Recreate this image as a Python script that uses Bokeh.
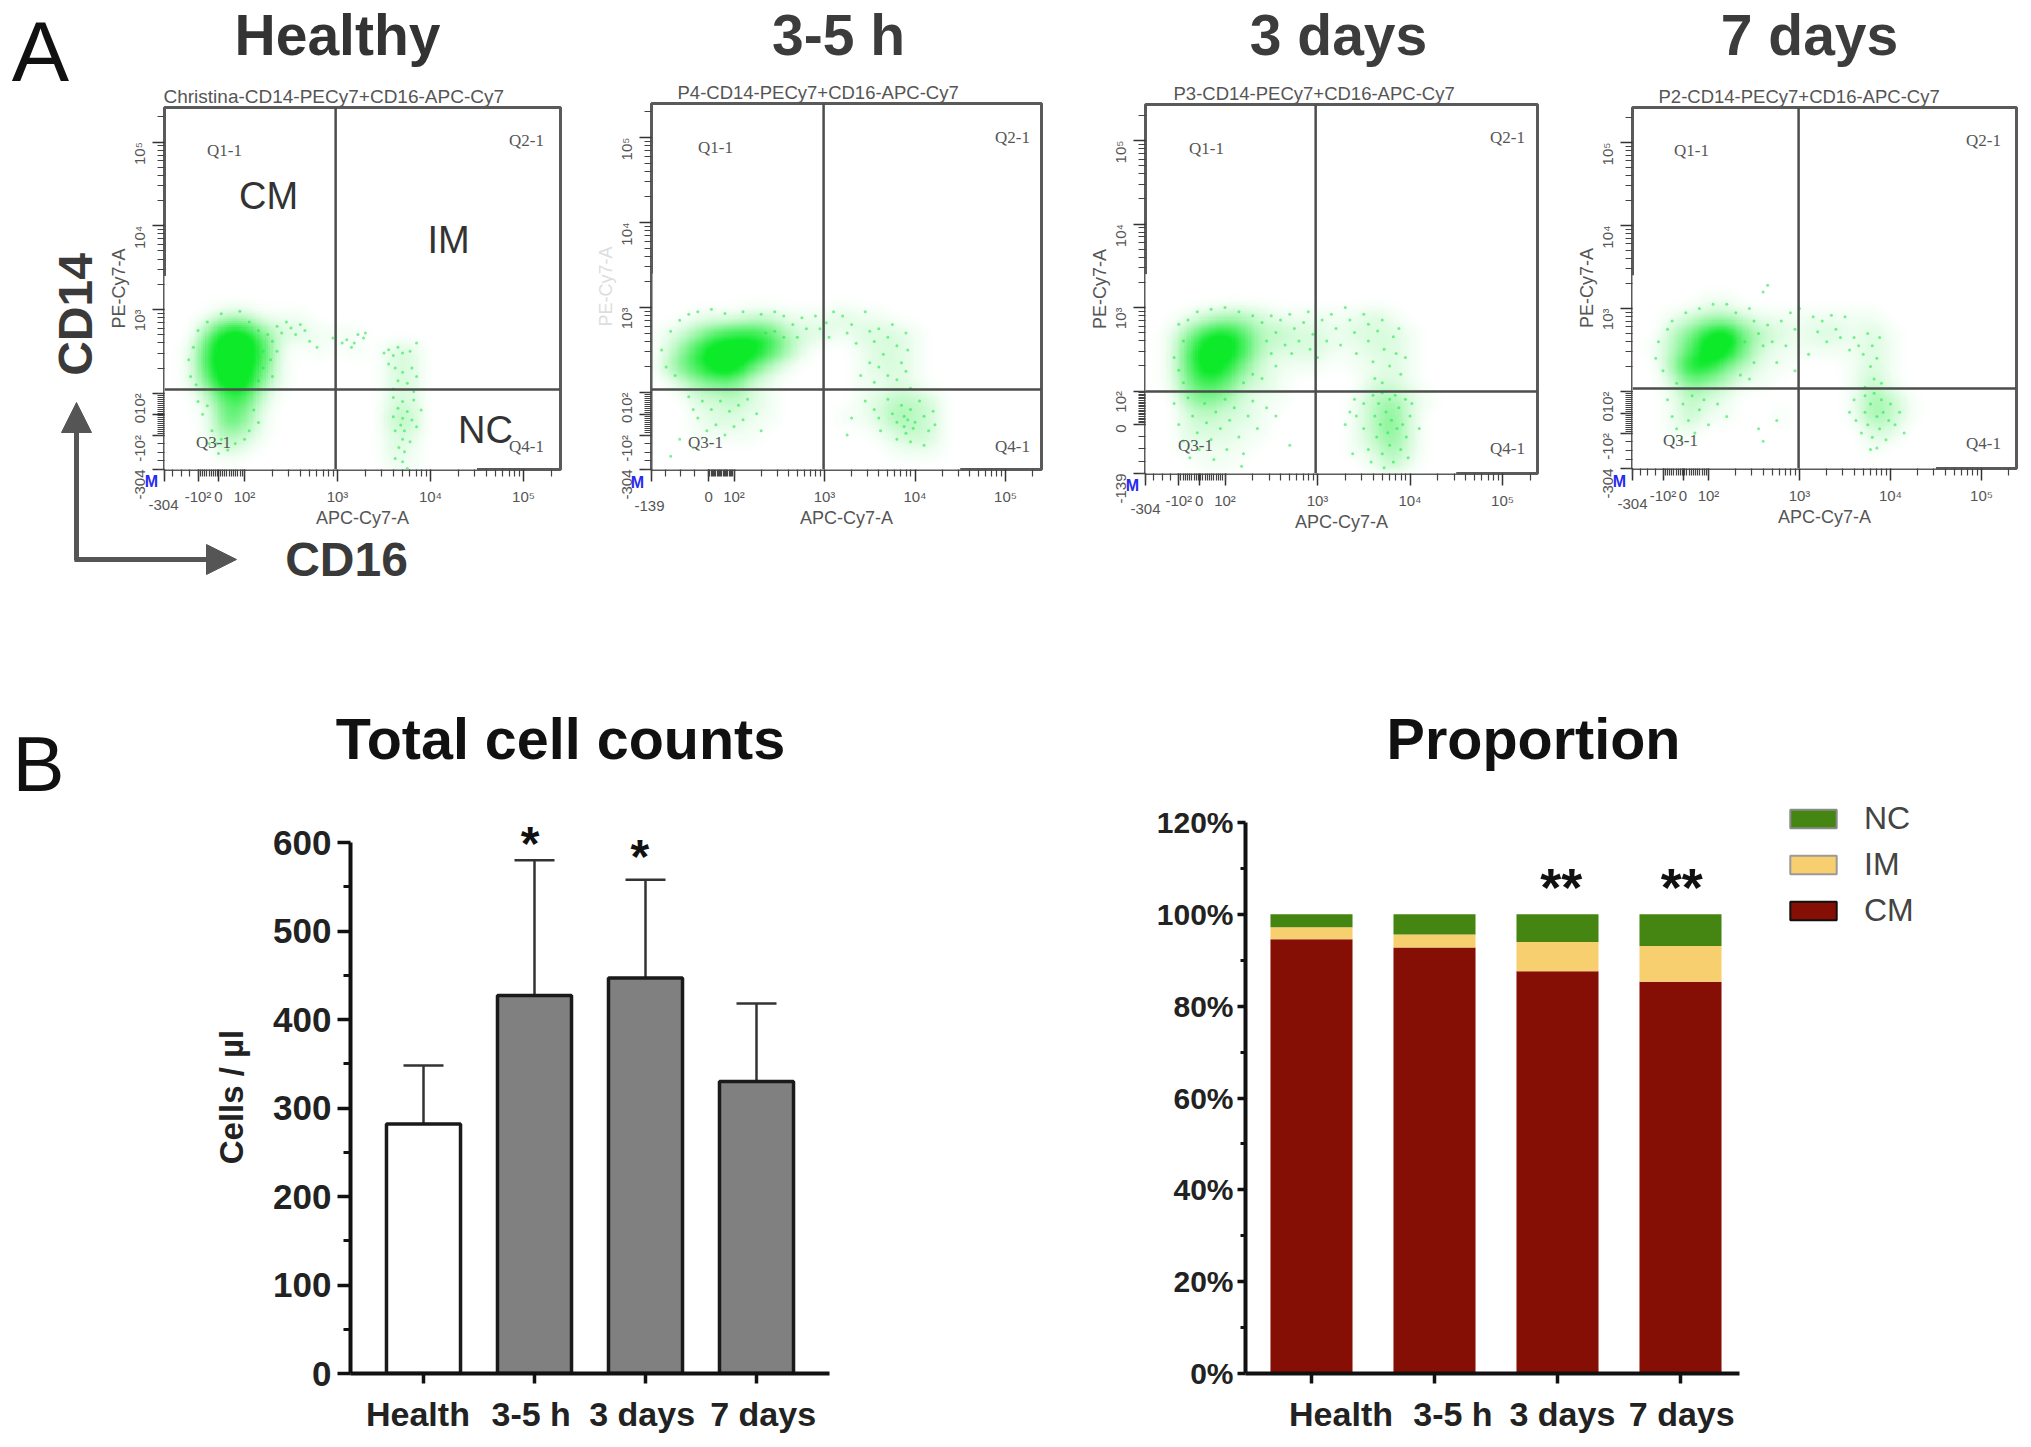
import math
import numpy as np
from bokeh.plotting import figure
from bokeh.layouts import column, row
from bokeh.models import (Range1d, FixedTicker, Arrow, NormalHead, LinearAxis, Legend, LegendItem,
                          ColumnDataSource, PrintfTickFormatter, Whisker, TeeHead, LinearColorMapper)
from bokeh.core.properties import value
from bokeh.embed import file_html
from bokeh.resources import INLINE

# ---------------- DATA ----------------
headings = ["Healthy", "3-5 h", "3 days", "7 days"]
gate_titles = ["Christina-CD14-PECy7+CD16-APC-Cy7", "P4-CD14-PECy7+CD16-APC-Cy7",
               "P3-CD14-PECy7+CD16-APC-Cy7", "P2-CD14-PECy7+CD16-APC-Cy7"]
categories = ["Health", "3-5 h", "3 days", "7 days"]

cell_means = [282, 427, 447, 330]
cell_upper = [348, 580, 558, 418]
cm_share = [94.6, 92.8, 87.6, 85.3]
im_share = [2.6, 2.8, 6.4, 7.8]
nc_share = [2.8, 4.4, 6.0, 6.9]

# Flow panels: positions are on the display scale, where 10^n sits at n.
# Event density read by eye, 0-9, columns x = 1.2, 1.4 ... 4.4; rows y = 3.3, 3.1 ... 1.1
density_x = (1.1, 4.5)
density_y = (1.0, 3.4)
p1_density = ["00000000000000000", "00000000000000000", "00133111000000000", "00599522111000000",
              "01799710101022000", "01799610000022000", "01599410000022000", "00266200000022000",
              "00165100000033000", "00143100000022000", "00021000000021000", "00000000000011000"]
p2_density = ["00000000000000000", "00000000000000000", "00111221112110000", "12467763221222100",
              "14799974100122100", "25799631000122100", "02455210000112100", "00223210000123320",
              "00122110001124320", "00111100000012320", "00000000000001110", "00000000000000000"]
p3_density = ["00000000000000000", "00000000000000000", "00123321111121000", "01478633221222100",
              "01699732221122100", "01698521110112100", "01576321000022100", "00454211000134210",
              "00232210000135200", "00222110000135200", "00111100000124200", "00011000000013100"]
p4_density = ["00000000000000000", "00001100000000000", "00123321111111000", "00358953212212100",
              "01369952111112100", "00488531100012100", "00254311000013100", "00132100000014310",
              "00131100100014310", "00110000000002200", "00000000000001000", "00000000000000000"]

# Individual events
p1_events = [(2.15, 2.75), (2.25, 2.7), (2.3, 2.62), (2.35, 2.8), (2.4, 2.72), (2.45, 2.85), (2.5, 2.78), (2.55, 2.7),
             (2.6, 2.82), (2.65, 2.75), (2.7, 2.62), (2.78, 2.55), (2.2, 2.5), (2.28, 2.4), (2.35, 2.5), (2.2, 2.3),
             (2.15, 2.15), (2.3, 2.2), (2.95, 2.66), (3.05, 2.6), (3.1, 2.64), (3.18, 2.6), (3.22, 2.7), (3.28, 2.66),
             (3.3, 2.72), (3.15, 2.55), (3.5, 2.48), (3.55, 2.52), (3.6, 2.45), (3.65, 2.55), (3.7, 2.48), (3.78, 2.5),
             (3.85, 2.6), (3.55, 2.35), (3.62, 2.3), (3.7, 2.25), (3.8, 2.3), (3.85, 2.2), (3.65, 2.15), (3.75, 2.12),
             (3.6, 2.05), (3.82, 2.02), (3.6, 1.95), (3.7, 1.9), (3.82, 1.92), (3.9, 1.8), (3.65, 1.82), (3.75, 1.78),
             (3.6, 1.72), (3.7, 1.7), (3.8, 1.68), (3.68, 1.62), (3.72, 1.55), (3.85, 1.6), (3.62, 1.55), (3.7, 1.45),
             (3.78, 1.42), (3.66, 1.35), (3.72, 1.3), (3.62, 1.22), (3.7, 1.18), (3.75, 1.1), (1.5, 1.9), (1.55, 1.75),
             (1.6, 1.85), (1.65, 1.55), (1.7, 1.4), (1.75, 1.45), (1.62, 1.4), (2.1, 1.8), (2.15, 1.65), (2.05, 1.55),
             (2.0, 1.45), (1.9, 1.4), (1.82, 1.32), (1.72, 1.28), (1.4, 2.4), (1.45, 2.55), (1.42, 2.2), (1.48, 2.1),
             (1.5, 2.75), (1.6, 2.85), (1.75, 2.95), (1.95, 2.98), (2.05, 2.85)]
p2_events = [(1.2, 2.5), (1.25, 2.3), (1.3, 2.72), (1.35, 2.2), (1.4, 2.85), (1.5, 2.92), (1.6, 2.95), (1.75, 2.98),
             (1.9, 2.93), (2.1, 2.95), (2.3, 2.92), (2.45, 2.95), (2.55, 2.9), (2.35, 2.7), (2.45, 2.72), (2.55, 2.65),
             (2.65, 2.8), (2.75, 2.88), (2.7, 2.65), (2.8, 2.75), (2.9, 2.9), (2.95, 2.75), (3.02, 2.82), (3.05, 2.65),
             (3.1, 2.95), (3.2, 2.9), (3.25, 2.7), (3.3, 2.8), (3.35, 2.58), (3.45, 2.95), (3.5, 2.72), (3.55, 2.6),
             (3.6, 2.75), (3.65, 2.45), (3.7, 2.65), (3.75, 2.8), (3.8, 2.55), (3.85, 2.35), (3.9, 2.7), (3.92, 2.5),
             (3.6, 2.3), (3.7, 2.2), (3.8, 2.15), (3.9, 2.25), (3.5, 2.35), (3.4, 2.2), (3.55, 2.12), (3.95, 2.05),
             (3.45, 1.9), (3.55, 1.8), (3.6, 1.7), (3.62, 1.55), (3.7, 1.92), (3.75, 1.75), (3.8, 1.65), (3.85, 1.85),
             (3.88, 1.72), (3.9, 1.52), (3.95, 1.8), (4.0, 1.65), (4.05, 1.9), (4.1, 1.72), (4.15, 1.55), (4.2, 1.78),
             (4.22, 1.62), (3.8, 1.45), (3.95, 1.42), (4.1, 1.38), (3.88, 1.6), (3.92, 1.68), (3.98, 1.58), (3.3, 1.7),
             (3.25, 1.5), (1.5, 1.95), (1.55, 1.8), (1.6, 1.7), (1.65, 1.9), (1.7, 1.55), (1.75, 1.8), (1.8, 1.62),
             (1.85, 1.9), (1.9, 1.5), (1.95, 1.78), (2.0, 1.6), (2.05, 1.85), (2.1, 1.68), (2.15, 1.92), (2.25, 1.75),
             (2.3, 1.55), (1.4, 1.45), (1.3, 1.25), (1.55, 1.35)]
p3_events = [(1.5, 2.8), (1.55, 2.6), (1.6, 2.85), (1.45, 2.4), (1.5, 2.25), (1.55, 2.1), (1.7, 2.95), (1.85, 2.98),
             (2.0, 3.0), (2.15, 2.95), (2.3, 2.9), (2.4, 2.82), (2.45, 2.6), (2.5, 2.45), (2.55, 2.3), (2.3, 2.2),
             (2.4, 2.15), (2.2, 2.1), (2.5, 2.9), (2.55, 2.7), (2.6, 2.85), (2.65, 2.55), (2.7, 2.92), (2.72, 2.45),
             (2.75, 2.75), (2.8, 2.6), (2.85, 2.82), (2.9, 2.95), (2.92, 2.5), (2.95, 2.68), (3.0, 2.4), (3.05, 2.85),
             (3.1, 2.6), (3.15, 2.92), (3.2, 2.75), (3.25, 2.55), (3.3, 3.0), (3.35, 2.85), (3.4, 2.7), (3.42, 2.45),
             (3.5, 2.92), (3.55, 2.8), (3.55, 2.6), (3.6, 2.35), (3.65, 2.72), (3.7, 2.85), (3.72, 2.5), (3.78, 2.3),
             (3.82, 2.65), (3.85, 2.45), (3.88, 2.75), (3.9, 2.2), (3.62, 2.15), (3.7, 2.1), (3.95, 2.4), (3.4, 1.9),
             (3.42, 1.7), (3.5, 1.55), (3.5, 1.85), (3.55, 1.3), (3.58, 1.15), (3.6, 1.95), (3.62, 1.7), (3.64, 1.45),
             (3.66, 1.85), (3.68, 1.6), (3.7, 1.25), (3.7, 1.98), (3.72, 1.08), (3.74, 1.75), (3.76, 1.5), (3.78, 1.9),
             (3.78, 1.35), (3.8, 1.65), (3.82, 1.15), (3.84, 1.95), (3.86, 1.55), (3.88, 1.8), (3.9, 1.3), (3.92, 1.6),
             (3.95, 1.9), (3.96, 1.45), (3.98, 1.2), (4.0, 1.7), (4.02, 1.85), (3.3, 1.6), (3.35, 1.75), (3.38, 1.25),
             (4.1, 1.55), (1.45, 1.85), (1.5, 1.6), (1.55, 1.4), (1.6, 1.92), (1.62, 1.2), (1.65, 1.7), (1.7, 1.5),
             (1.72, 1.3), (1.78, 1.85), (1.8, 1.62), (1.85, 1.42), (1.88, 1.18), (1.9, 1.75), (1.95, 1.55), (2.0, 1.9),
             (2.02, 1.3), (2.05, 1.65), (2.1, 1.8), (2.15, 1.45), (2.18, 1.1), (2.25, 1.7), (2.3, 1.88), (2.35, 1.55),
             (2.45, 1.8), (2.55, 1.7), (2.7, 1.35), (2.2, 1.25)]
p4_events = [(1.42, 2.4), (1.45, 2.6), (1.5, 2.25), (1.55, 2.75), (1.6, 2.85), (1.65, 2.1), (1.75, 2.95), (1.9, 3.0),
             (2.05, 3.05), (2.2, 3.05), (2.3, 2.95), (2.45, 3.0), (2.6, 3.2), (2.65, 3.28), (2.5, 2.85), (2.55, 2.7),
             (2.6, 2.55), (2.5, 2.35), (2.45, 2.15), (2.35, 2.2), (2.4, 2.6), (2.65, 2.8), (2.7, 2.6), (2.75, 2.35),
             (2.8, 2.85), (2.85, 2.55), (2.9, 2.95), (2.95, 2.75), (2.95, 2.25), (3.0, 3.0), (3.1, 2.45), (3.15, 2.9),
             (3.2, 2.72), (3.25, 2.85), (3.3, 2.6), (3.35, 2.92), (3.4, 2.75), (3.45, 2.65), (3.5, 2.9), (3.55, 2.5),
             (3.6, 2.65), (3.65, 2.55), (3.7, 2.45), (3.75, 2.7), (3.78, 2.3), (3.8, 2.55), (3.82, 2.15), (3.85, 2.4),
             (3.88, 2.65), (3.9, 2.1), (3.72, 2.05), (3.55, 1.75), (3.6, 1.9), (3.62, 1.65), (3.68, 1.5), (3.72, 1.95),
             (3.72, 1.75), (3.75, 1.6), (3.78, 1.85), (3.8, 1.45), (3.82, 1.98), (3.85, 1.7), (3.88, 1.55), (3.9, 1.9),
             (3.92, 1.75), (3.95, 1.42), (3.98, 1.65), (4.0, 1.85), (4.05, 1.6), (4.1, 1.75), (4.15, 1.5), (3.85, 1.32),
             (3.78, 1.3), (1.55, 1.9), (1.6, 1.7), (1.65, 1.55), (1.7, 1.42), (1.72, 1.85), (1.78, 1.65), (1.82, 1.95),
             (1.85, 1.5), (1.9, 1.78), (1.95, 1.9), (2.0, 1.6), (2.1, 1.85), (2.2, 1.7), (2.55, 1.55), (2.6, 1.4),
             (2.75, 1.65)]

FONT = "Liberation Sans"
GREEN = (12, 234, 42)
GREY_TXT = "#555555"
W, H = 2025, 1440

green_ramp = ["#%02x%02x%02x" % tuple(int(round(255 + (c - 255) * t)) for c in GREEN) for t in np.linspace(0, 1, 256)]
density_mapper = LinearColorMapper(palette=green_ramp, low=0, high=9)


def soften(rows, factor=8):
    """Display softening of the read grid: the source picture is blurred, its cells are not squares."""
    g = np.array([[int(c) for c in rw] for rw in rows[::-1]], dtype=float)
    g = np.repeat(np.repeat(g, factor, axis=0), factor, axis=1)
    k = np.ones(factor + 1) / (factor + 1)
    for _ in range(2):
        g = np.apply_along_axis(lambda v: np.convolve(v, k, mode="same"), 0, g)
        g = np.apply_along_axis(lambda v: np.convolve(v, k, mode="same"), 1, g)
    g = np.clip(g * 1.15, 0, 9)
    return 9 * (g / 9) ** 1.35


def make_figure(fig_box, frame, xr, yr):
    fl, fr_, ft, fb = fig_box
    l, r, t, b = frame
    p = figure(width=fr_ - fl, height=fb - ft, output_backend="svg", toolbar_location=None,
               x_range=Range1d(*xr), y_range=Range1d(*yr),
               min_border_left=l - fl, min_border_right=fr_ - r, min_border_top=t - ft, min_border_bottom=fb - b)
    p.frame_align = False
    p.grid.visible = False
    p.background_fill_color = None
    p.border_fill_color = None
    return p


# Transparent sheet over the whole page for headings and decorations.
sheet = figure(width=W, height=H, output_backend="svg", toolbar_location=None, x_range=Range1d(0, W),
               y_range=Range1d(H, 0), min_border=0, margin=(-H, 0, 0, 0))
sheet.frame_align = False
sheet.axis.visible = False
sheet.grid.visible = False
sheet.outline_line_color = None
sheet.background_fill_color = None
sheet.border_fill_color = None


def note(text, px, py, size, color="#222222", bold=False, angle=0.0, font=FONT, align="center"):
    sheet.text(x=[px], y=[py], text=[text], text_font=value(font), text_font_size=f"{size}px",
               text_font_style="bold" if bold else "normal", text_color=color, angle=angle,
               text_align=align, text_baseline="middle")


def flow_panel(i, fig_box, frame, xcal, ycal, xlabels, ylabels, density, events, qpos, gate, title_px, low_px, m_px, ylab_color):
    l, r, t, b = frame
    dx = (xcal[1] - xcal[0]) / 2.0   # px per decade, from 10^3 and 10^5 ticks
    dy = (ycal[0] - ycal[1]) / 2.0
    xr = (3 - (xcal[0] - l) / dx, 3 + (r - xcal[0]) / dx)
    yr = (3 - (b - ycal[0]) / dy, 3 + (ycal[0] - t) / dy)
    p = make_figure(fig_box, frame, xr, yr)

    p.image(image=[soften(density)], x=density_x[0], y=density_y[0], dw=density_x[1] - density_x[0],
            dh=density_y[1] - density_y[0], color_mapper=density_mapper)
    ex, ey = zip(*events)
    p.scatter(x=list(ex), y=list(ey), size=3, color="#22e84a", alpha=.6, line_color=None)

    p.outline_line_color = "#5a5a5a"
    p.outline_line_width = 3
    p.segment(x0=[gate[0]], x1=[gate[0]], y0=[yr[0]], y1=[yr[1]], line_color="#4d4d4d", line_width=2.5)
    p.segment(x0=[xr[0]], x1=[xr[1]], y0=[gate[1]], y1=[gate[1]], line_color="#4d4d4d", line_width=2.5)

    def minor(neg, lo):
        decade = [d + math.log10(k) for d in (2, 3, 4, 5) for k in range(2, 10)]
        near = list(np.linspace(neg, 2, 22)) + list(np.linspace(lo, neg, 5))
        return decade + near

    xax = p.xaxis[0]
    xax.ticker = FixedTicker(ticks=[xr[0]] + xlabels[0],
                             minor_ticks=[v for v in minor(xlabels[0][0], xr[0]) if xr[0] <= v <= xr[1]])
    xax.major_label_overrides = {**{xr[0]: ""}, **dict(zip(xlabels[0], xlabels[1]))}
    yax = p.yaxis[0]
    yax.ticker = FixedTicker(ticks=[yr[0]] + ylabels[0],
                             minor_ticks=[v for v in minor(ylabels[0][0], yr[0]) if yr[0] <= v <= yr[1]])
    yax.major_label_overrides = {**{yr[0]: ylabels[2]}, **dict(zip(ylabels[0], ylabels[1]))}
    yax.major_label_orientation = math.pi / 2
    for ax in (xax, yax):
        ax.axis_line_color = None
        ax.major_tick_line_color = "#333333"
        ax.minor_tick_line_color = "#444444"
        ax.major_tick_line_width = 1.5
        ax.minor_tick_line_width = 1.2
        ax.major_tick_out = 12
        ax.major_tick_in = 0
        ax.minor_tick_out = 7
        ax.minor_tick_in = 0
        ax.major_label_text_font = FONT
        ax.major_label_text_font_size = "15px"
        ax.major_label_text_color = GREY_TXT
        ax.axis_label_text_font = FONT
        ax.axis_label_text_font_size = "18px"
        ax.axis_label_text_font_style = "normal"
    xax.major_label_standoff = 6
    yax.major_label_standoff = 13
    xax.axis_label = "APC-Cy7-A"
    yax.axis_label = "PE-Cy7-A"
    xax.axis_label_text_color = GREY_TXT
    yax.axis_label_text_color = ylab_color
    xax.axis_label_standoff = 0
    yax.axis_label_standoff = -9

    note(gate_titles[i], title_px[0], title_px[1], 19 if i == 0 else 18.5, GREY_TXT, align="left")
    note(xlabels[2], low_px[0], low_px[1], 15, GREY_TXT)
    for txt, (qx, qy) in zip(["Q1-1", "Q2-1", "Q3-1", "Q4-1"], qpos):
        note(txt, qx, qy, 17, "#555555", font="Liberation Serif")
    note("M", m_px[0], m_px[1], 16, "#2a2af0", bold=True)
    return p


# ------------- Panel A -------------
y_labs = ["-10²", "0", "10²", "10³", "10⁴", "10⁵"]
f1 = flow_panel(0, (0, 575, 0, 600), (164, 560, 107, 469), (337, 523), (309, 141.6),
                ([1.5, 1.72, 2, 3, 4, 5], y_labs, "-304"),
                ([1.5, 1.74, 2, 3, 4, 5], y_labs, "-304"),
                p1_density, p1_events, [(224, 150), (526, 140), (213, 442), (526, 446)], (2.98, 2.044), (163, 96), (163, 504), (151, 481), GREY_TXT)
f2 = flow_panel(1, (575, 1058, 0, 600), (651, 1041, 103, 469), (824, 1005), (307, 137),
                ([1.72, 2, 3, 4, 5], ["0", "10²", "10³", "10⁴", "10⁵"], "-139"),
                ([1.5, 1.74, 2, 3, 4, 5], y_labs, "-304"),
                p2_density, p2_events, [(715, 147), (1012, 137), (705, 442), (1012, 446)], (2.99, 2.035), (677, 92), (649, 505), (637, 482), "#dddddd")
f3 = flow_panel(2, (1058, 1542, 0, 600), (1145, 1537, 104, 473), (1317, 1502), (307, 140),
                ([1.5, 1.72, 2, 3, 4, 5], y_labs, "-304"),
                ([1.6, 2, 3, 4, 5], ["0", "10²", "10³", "10⁴", "10⁵"], "-139"),
                p3_density, p3_events, [(1206, 148), (1507, 137), (1195, 445), (1507, 448)], (2.98, 1.994), (1173, 93), (1145, 508), (1132, 485), GREY_TXT)
f4 = flow_panel(3, (1542, 2025, 0, 600), (1632, 2016, 107, 468), (1799, 1981), (308, 142),
                ([1.5, 1.72, 2, 3, 4, 5], y_labs, "-304"),
                ([1.5, 1.74, 2, 3, 4, 5], y_labs, "-304"),
                p4_density, p4_events, [(1691, 150), (1983, 140), (1680, 440), (1983, 443)], (2.99, 2.036), (1658, 96), (1632, 503), (1619, 481), GREY_TXT)

HEAD = "#333333"
note(headings[0], 337, 34, 57, HEAD, bold=True)
note(headings[1], 838, 34, 57, "#3c3c3c", bold=True)
note(headings[2], 1338, 34, 57, "#3c3c3c", bold=True)
note(headings[3], 1809, 34, 57, "#3c3c3c", bold=True)
note("A", 40, 50, 86, "#111111")
note("CM", 268, 195, 38, "#333333")
note("IM", 448, 239, 38, "#333333")
note("NC", 485, 429, 38, "#333333")
note("CD14", 75, 314, 48, "#3a3a3a", bold=True, angle=math.pi / 2)
note("CD16", 346, 559, 48, "#3a3a3a", bold=True)
ARROW = "#555555"
sheet.add_layout(Arrow(end=NormalHead(size=30, fill_color=ARROW, line_color=ARROW), line_color=ARROW, line_width=5,
                       x_start=76, y_start=560, x_end=76, y_end=402))
sheet.add_layout(Arrow(end=NormalHead(size=30, fill_color=ARROW, line_color=ARROW), line_color=ARROW, line_width=5,
                       x_start=74, y_start=559, x_end=236, y_end=559))


def bar_axes(p, ticks, minors, ysize, label_pos, tick_out, standoff, xsize=34):
    yax = p.yaxis[0]
    yax.ticker = FixedTicker(ticks=ticks, minor_ticks=minors)
    yax.bounds = (ticks[0], ticks[-1])
    xax = p.xaxis[0]
    xax.ticker = FixedTicker(ticks=[0, 1, 2, 3])
    xax.major_label_overrides = {k: "" for k in (0, 1, 2, 3)}
    xax.major_label_standoff = 0
    xax.major_label_text_font_size = "1px"
    for ax in (xax, yax):
        ax.axis_line_color = "#111111"
        ax.axis_line_width = 4
        ax.major_tick_line_color = "#111111"
        ax.major_tick_line_width = 3.5
        ax.minor_tick_line_color = "#111111"
        ax.minor_tick_line_width = 3
        ax.major_tick_out = tick_out
        ax.major_tick_in = 0
        ax.minor_tick_out = 7 if tick_out > 10 else 5
        ax.minor_tick_in = 0
    xax.major_tick_out = 10
    yax.major_label_text_font = FONT
    yax.major_label_text_font_style = "bold"
    yax.major_label_text_font_size = f"{ysize}px"
    yax.major_label_text_color = "#222222"
    yax.major_label_standoff = standoff
    lab = LinearAxis(ticker=FixedTicker(ticks=label_pos),
                     major_label_overrides=dict(zip(label_pos, categories)),
                     axis_line_color=None, major_tick_line_color=None, minor_tick_line_color=None,
                     major_label_text_font=FONT, major_label_text_font_style="bold",
                     major_label_text_font_size=f"{xsize}px", major_label_text_color="#222222",
                     major_label_standoff=5)
    p.add_layout(lab, "below")


# ------------- Panel B left -------------
u1 = 531 / 600.0
xr1 = ((350 - 423) / 111.0, (829 - 423) / 111.0)
top1 = (1373 - 820) / u1
b1 = make_figure((0, 1100, 600, 1440), (350, 829, 820, 1373), xr1, (0, top1))
xs = [0, 1, 2, 3]
src1 = ColumnDataSource(dict(x=xs, top=cell_means, upper=cell_upper,
                             fill=["#ffffff", "#808080", "#808080", "#808080"]))
b1.add_layout(Whisker(base="x", upper="upper", lower="top", source=src1, line_color="#333333", line_width=2.5,
                      upper_head=TeeHead(size=40, line_color="#333333", line_width=2.5), lower_head=None))
b1.vbar(x="x", top="top", width=.667, fill_color="fill", line_color="#1a1a1a", line_width=3.5, source=src1)
b1.outline_line_color = None
bar_axes(b1, [0, 100, 200, 300, 400, 500, 600], [50, 150, 250, 350, 450, 550], 35, [-.05, .97, 1.97, 3.06], 13, 6)
b1.yaxis[0].axis_label = "Cells / µl"
b1.yaxis[0].axis_label_text_font = FONT
b1.yaxis[0].axis_label_text_font_style = "bold"
b1.yaxis[0].axis_label_text_font_size = "33px"
b1.yaxis[0].axis_label_text_color = "#222222"
b1.yaxis[0].axis_label_standoff = 20
star1_x = [0.96, 1.95]
star1_y = [604, 590]
b1.text(x=star1_x, y=star1_y, text=["*", "*"], text_font=value(FONT), text_font_style="bold", text_font_size="48px",
        text_align="center", text_baseline="middle", text_color="#111111", y_offset=5)
note("Total cell counts", 560, 738, 57.5, "#111111", bold=True)
note("B", 38, 763, 78, "#111111")

# ------------- Panel B right -------------
xr2 = ((1245 - 1311) / 123.0, (1739 - 1311) / 123.0)
b2 = make_figure((1100, 2025, 600, 1440), (1245, 1739, 822, 1373), xr2, (0, 120))
src2 = ColumnDataSource(dict(x=xs, CM=cm_share, IM=im_share, NC=nc_share))
COLS = ["#860f05", "#f7cf6e", "#458512"]
b2.vbar_stack(["CM", "IM", "NC"], x="x", width=.667, color=COLS, source=src2, line_color=None)
b2.outline_line_color = None
bar_axes(b2, list(range(0, 121, 20)), list(range(10, 120, 20)), 30, [.24, 1.15, 2.04, 3.01], 8, 4)
b2.yaxis[0].formatter = PrintfTickFormatter(format="%d%%")
star2_x = [2.03, 3.01]
star2_y = [107.0, 107.0]
b2.text(x=star2_x, y=star2_y, text=["**", "**"], text_font=value(FONT), text_font_style="bold", text_font_size="54px",
        text_align="center", text_baseline="middle", text_color="#111111", y_offset=5)
note("Proportion", 1533, 738, 57.5, "#111111", bold=True)
nan = float("nan")
sw_nc = sheet.vbar(x=[nan], top=[nan], width=1, fill_color=COLS[2], line_color="#8a8a8a", line_width=2)
sw_im = sheet.vbar(x=[nan], top=[nan], width=1, fill_color=COLS[1], line_color="#9a9a9a", line_width=2)
sw_cm = sheet.vbar(x=[nan], top=[nan], width=1, fill_color=COLS[0], line_color="#111111", line_width=2)
leg = Legend(items=[LegendItem(label="NC", renderers=[sw_nc]), LegendItem(label="IM", renderers=[sw_im]),
                    LegendItem(label="CM", renderers=[sw_cm])],
             location=(1784, H - 929), orientation="vertical", padding=0, margin=0, spacing=9,
             glyph_width=58, glyph_height=23, label_standoff=22, border_line_color=None, background_fill_alpha=0,
             label_text_font=FONT, label_text_font_size="32px", label_text_color="#444444")
sheet.add_layout(leg)

page = column(row(f1, f2, f3, f4), row(b1, b2), sheet)
open("out.html", "w").write(file_html(page, INLINE))
